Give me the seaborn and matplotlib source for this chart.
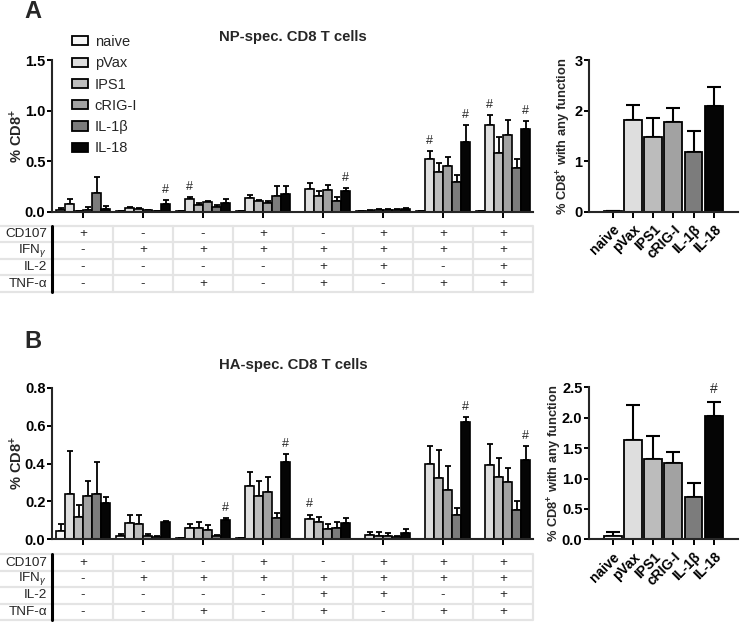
import numpy as np
import pandas as pd
import matplotlib
matplotlib.use("Agg")
import matplotlib.pyplot as plt
from matplotlib.patches import Patch
import seaborn as sns

# ---- data -------------------------------------------------------------
groups = ["naive", "pVax", "IPS1", "cRIG-I", "IL-1β", "IL-18"]
colors = ["#f7f7f7", "#dedede", "#bcbcbc", "#a2a2a2", "#7c7c7c", "#050505"]
combos = ["c1", "c2", "c3", "c4", "c5", "c6", "c7", "c8"]

row_labels = ["CD107", r"IFN$_{\gamma}$", "IL-2", "TNF-α"]
cd107 = ["+", "-", "-", "+", "-", "+", "+", "+"]
ifng = ["-", "+", "+", "+", "+", "+", "+", "+"]
il2 = ["-", "-", "-", "-", "+", "+", "-", "+"]
tnfa = ["-", "-", "+", "-", "+", "-", "+", "+"]

# NP-specific (panel A)
np_naive = [0.02, 0.005, 0.005, 0.005, 0.003, 0.005, 0.005, 0.005]
np_pvax = [0.08, 0.035, 0.13, 0.135, 0.23, 0.01, 0.52, 0.86]
np_ips1 = [0.005, 0.025, 0.07, 0.105, 0.155, 0.015, 0.39, 0.58]
np_crig = [0.02, 0.015, 0.10, 0.085, 0.22, 0.02, 0.45, 0.76]
np_il1b = [0.19, 0.005, 0.05, 0.16, 0.11, 0.015, 0.30, 0.43]
np_il18 = [0.03, 0.08, 0.085, 0.18, 0.21, 0.025, 0.69, 0.82]
np_naive_err = [0.02, 0, 0, 0, 0, 0, 0, 0]
np_pvax_err = [0.045, 0.01, 0.02, 0.035, 0.055, 0.01, 0.08, 0.10]
np_ips1_err = [0.0, 0.01, 0.02, 0.01, 0.055, 0.01, 0.09, 0.16]
np_crig_err = [0.03, 0.005, 0.01, 0.025, 0.05, 0.01, 0.09, 0.15]
np_il1b_err = [0.16, 0.005, 0.02, 0.10, 0.04, 0.01, 0.07, 0.09]
np_il18_err = [0.03, 0.035, 0.045, 0.08, 0.025, 0.015, 0.17, 0.08]
np_sig = [(1, 5), (2, 1), (4, 5), (6, 1), (6, 5), (7, 1), (7, 5)]

# HA-specific (panel B)
ha_naive = [0.045, 0.015, 0.005, 0.005, 0.003, 0.003, 0.003, 0.003]
ha_pvax = [0.24, 0.085, 0.06, 0.28, 0.105, 0.023, 0.40, 0.39]
ha_ips1 = [0.12, 0.08, 0.06, 0.23, 0.09, 0.02, 0.325, 0.33]
ha_crig = [0.23, 0.018, 0.05, 0.25, 0.055, 0.02, 0.26, 0.30]
ha_il1b = [0.24, 0.01, 0.015, 0.11, 0.058, 0.01, 0.13, 0.155]
ha_il18 = [0.19, 0.09, 0.10, 0.41, 0.085, 0.035, 0.62, 0.42]
ha_naive_err = [0.035, 0.013, 0, 0, 0, 0, 0, 0]
ha_pvax_err = [0.225, 0.045, 0.02, 0.075, 0.025, 0.017, 0.09, 0.115]
ha_ips1_err = [0.06, 0.05, 0.03, 0.08, 0.03, 0.02, 0.145, 0.10]
ha_crig_err = [0.08, 0.012, 0.025, 0.08, 0.025, 0.015, 0.125, 0.075]
ha_il1b_err = [0.17, 0.01, 0.01, 0.03, 0.032, 0.005, 0.035, 0.045]
ha_il18_err = [0.035, 0.005, 0.01, 0.04, 0.03, 0.02, 0.025, 0.07]
ha_sig = [(2, 5), (3, 5), (4, 1), (6, 5), (7, 5)]

# any function totals
np_any = [0.01, 1.81, 1.48, 1.77, 1.18, 2.09]
np_any_err = [0.0, 0.31, 0.38, 0.29, 0.42, 0.38]
ha_any = [0.055, 1.63, 1.315, 1.26, 0.70, 2.03]
ha_any_err = [0.06, 0.58, 0.385, 0.17, 0.22, 0.23]
ha_any_sig = [5]

# ---- style ------------------------------------------------------------
sns.set_theme(style="ticks")
plt.rcParams["font.family"] = ["Liberation Sans", "DejaVu Sans"]
plt.rcParams["mathtext.fontset"] = "custom"
plt.rcParams["mathtext.rm"] = "Liberation Sans"
plt.rcParams["mathtext.it"] = "Liberation Sans:italic"
plt.rcParams["mathtext.bf"] = "Liberation Sans:bold"
plt.rcParams["axes.linewidth"] = 1.5
plt.rcParams["xtick.major.width"] = 1.4
plt.rcParams["ytick.major.width"] = 1.4
plt.rcParams["xtick.major.size"] = 4
plt.rcParams["ytick.major.size"] = 3.5
plt.rcParams["ytick.major.pad"] = 1.2
plt.rcParams["xtick.color"] = "black"
plt.rcParams["ytick.color"] = "black"

W, H = 740, 622
fig = plt.figure(figsize=(W / 100, H / 100), dpi=100)


def box(l, t, r, b):
    return [l / W, 1 - b / H, (r - l) / W, (b - t) / H]


def label_x(ax, px):
    # y label anchor (its right edge) at a given figure pixel column
    pos = ax.get_position()
    return (px / W - pos.x0) / pos.width


def add_errbars(ax, errs):
    for cont, err in zip(ax.containers, errs):
        for bar, e in zip(cont, err):
            x = bar.get_x() + bar.get_width() / 2
            ax.errorbar(x, bar.get_height(), yerr=[[0], [e]], fmt="none",
                        ecolor="black", elinewidth=1.3, capsize=2.2,
                        capthick=1.3, zorder=1)


def main_panel(ax, series, errs, sig, ymax, yticks, fmt):
    df = pd.DataFrame({
        "combo": np.tile(combos, len(groups)),
        "group": np.repeat(groups, len(combos)),
        "value": np.concatenate(series),
    })
    sns.barplot(data=df, x="combo", y="value", hue="group", order=combos,
                hue_order=groups, palette=colors, width=0.9, dodge=True,
                edgecolor="black", linewidth=1.2, errorbar=None,
                legend=False, ax=ax, zorder=2)
    add_errbars(ax, errs)
    for c, g in sig:
        bar = ax.containers[g][c]
        x = bar.get_x() + bar.get_width() / 2
        ax.annotate("#", (x, bar.get_height() + errs[g][c]),
                    xytext=(0, 3), textcoords="offset points",
                    ha="center", va="bottom", fontsize=9)
    ax.set_xlim(-0.517, 7.5)
    ax.set_ylim(0, ymax)
    ax.set_yticks(yticks)
    ax.set_yticklabels([fmt.format(v) for v in yticks],
                       fontweight="bold", fontsize=10.5)
    ax.set_xticklabels([])
    ax.set_xlabel("")
    ax.set_ylabel(r"% CD8$^{\mathbf{+}}$", fontweight="bold", fontsize=10.5)
    ax.yaxis.set_label_coords(label_x(ax, 25), 0.5)
    sns.despine(ax=ax)


def table(tax):
    x0, x1 = -0.517, 7.5
    tax.set_xlim(x0, x1)
    tax.set_ylim(4, 0)
    tax.axis("off")
    ppu = (tax.get_position().width * W) / (x1 - x0)
    left = x0 - tax.get_position().x0 * W / ppu
    for r in range(5):
        tax.plot([left, 7.5], [r, r], color="#e4e4e4", lw=1.6,
                 clip_on=False, solid_capstyle="butt")
    for k in range(8):
        tax.plot([k + 0.5, k + 0.5], [0, 4], color="#e4e4e4", lw=1.6,
                 clip_on=False)
    tax.plot([x0, x0], [0, 4], color="black", lw=2.2, clip_on=False)
    for r, (lab, row) in enumerate(zip(row_labels,
                                       [cd107, ifng, il2, tnfa])):
        tax.text(x0 - 5 / ppu, r + 0.5, lab, ha="right", va="center",
                 fontsize=9.7)
        for k, s in enumerate(row):
            tax.text(k, r + 0.5, s, ha="center", va="center", fontsize=9.7)


def any_panel(ax, vals, err, sig, ymax, yticks, fmt, lab_px):
    df = pd.DataFrame({"group": groups, "value": vals})
    sns.barplot(data=df, x="group", y="value", hue="group", order=groups,
                hue_order=groups, palette=colors, width=0.88,
                edgecolor="black", linewidth=1.3, errorbar=None,
                legend=False, ax=ax, zorder=2)
    for cont, e in zip(ax.containers, err):
        for bar in cont:
            x = bar.get_x() + bar.get_width() / 2
            ax.errorbar(x, bar.get_height(), yerr=[[0], [e]], fmt="none",
                        ecolor="black", elinewidth=1.5, capsize=5,
                        capthick=1.5, zorder=1)
    for g in sig:
        bar = ax.containers[g][0]
        x = bar.get_x() + bar.get_width() / 2
        ax.annotate("#", (x, bar.get_height() + err[g]), xytext=(0, 4),
                    textcoords="offset points", ha="center", va="bottom",
                    fontsize=10)
    ax.set_xlim(-1.17, 6.2)
    ax.set_ylim(0, ymax)
    ax.set_yticks(yticks)
    ax.set_yticklabels([fmt.format(v) for v in yticks],
                       fontweight="bold", fontsize=10.5)
    ax.set_xticks(range(len(groups)))
    ax.set_xticklabels(groups, rotation=45, ha="right",
                       rotation_mode="anchor", fontweight="bold",
                       fontsize=10)
    ax.set_xlabel("")
    ax.set_ylabel(r"% CD8$^{\mathbf{+}}$ with any function",
                  fontweight="bold", fontsize=9.3)
    ax.yaxis.set_label_coords(label_x(ax, lab_px), 0.5)
    sns.despine(ax=ax)


# ---- panel A ----------------------------------------------------------
axA = fig.add_axes(box(52, 60, 533, 212))
main_panel(axA,
           [np_naive, np_pvax, np_ips1, np_crig, np_il1b, np_il18],
           [np_naive_err, np_pvax_err, np_ips1_err, np_crig_err,
            np_il1b_err, np_il18_err],
           np_sig, 1.5, [0, 0.5, 1.0, 1.5], "{:.1f}")
tA = fig.add_axes(box(52, 225.5, 533, 292))
table(tA)
axA2 = fig.add_axes(box(589, 60.3, 738, 212))
any_panel(axA2, np_any, np_any_err, [], 3, [0, 1, 2, 3], "{:d}", 573)

# ---- panel B ----------------------------------------------------------
axB = fig.add_axes(box(52, 387.7, 533, 539.3))
main_panel(axB,
           [ha_naive, ha_pvax, ha_ips1, ha_crig, ha_il1b, ha_il18],
           [ha_naive_err, ha_pvax_err, ha_ips1_err, ha_crig_err,
            ha_il1b_err, ha_il18_err],
           ha_sig, 0.8, [0, 0.2, 0.4, 0.6, 0.8], "{:.1f}")
tB = fig.add_axes(box(52, 554.3, 533, 620))
table(tB)
axB2 = fig.add_axes(box(589, 387.3, 738, 539.3))
any_panel(axB2, ha_any, ha_any_err, ha_any_sig, 2.5,
          [0, 0.5, 1.0, 1.5, 2.0, 2.5], "{:.1f}", 564)

# legend
handles = [Patch(facecolor=c, edgecolor="black", linewidth=1.3, label=g)
           for g, c in zip(groups, colors)]
fig.legend(handles=handles, loc="upper left",
           bbox_to_anchor=(72 / W, 1 - 35 / H), frameon=False,
           fontsize=10.5, handlelength=1.1, handleheight=0.6,
           handletextpad=0.45, labelspacing=0.5, borderpad=0,
           borderaxespad=0)

# titles and panel letters
fig.text(293 / W, 1 - 37 / H, "NP-spec. CD8 T cells", ha="center",
         va="center", fontweight="bold", fontsize=10.7)
fig.text(293 / W, 1 - 365 / H, "HA-spec. CD8 T cells", ha="center",
         va="center", fontweight="bold", fontsize=10.7)
fig.text(33 / W, 1 - 12 / H, "A", ha="center", va="center",
         fontweight="bold", fontsize=17)
fig.text(33 / W, 1 - 342 / H, "B", ha="center", va="center",
         fontweight="bold", fontsize=17)

fig.savefig("out.png", dpi=100)
